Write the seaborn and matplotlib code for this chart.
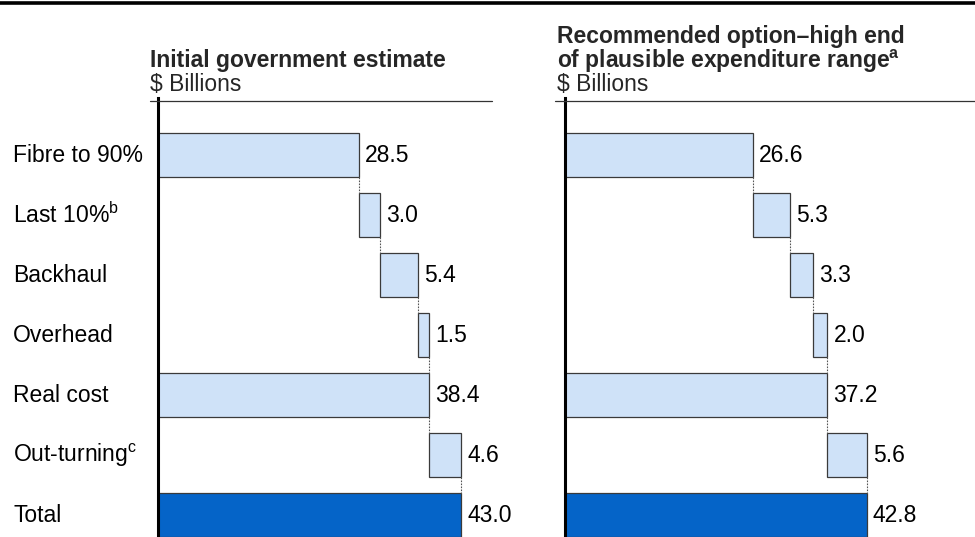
import matplotlib
matplotlib.use("Agg")
import matplotlib.pyplot as plt
import matplotlib.transforms as mtransforms
from matplotlib.lines import Line2D
import seaborn as sns
import pandas as pd

# ---- data -------------------------------------------------------------
categories = ["Fibre to 90%", "Last 10%", "Backhaul", "Overhead",
              "Real cost", "Out-turning", "Total"]
footnotes = ["", "b", "", "", "", "c", ""]
kinds = ["step", "step", "step", "step", "subtotal", "step", "total"]
initial_values = [28.5, 3.0, 5.4, 1.5, 38.4, 4.6, 43.0]
recommended_values = [26.6, 5.3, 3.3, 2.0, 37.2, 5.6, 42.8]

# ---- style ------------------------------------------------------------
sns.set_theme(style="white")
plt.rcParams["font.family"] = ["Liberation Sans", "DejaVu Sans"]
plt.rcParams["mathtext.fontset"] = "custom"
plt.rcParams["mathtext.rm"] = "Liberation Sans"
plt.rcParams["mathtext.bf"] = "Liberation Sans:bold"

LIGHT = "#CFE2F8"
DARK = "#0564C8"
EDGE = "#3A3A3A"
BAR_W = 0.72
FS = 16.5
W, H = 975, 537

fig = plt.figure(figsize=(W / 100, H / 100), dpi=100)


def px_x(x):
    return x / W


def px_y(y):
    return 1 - y / H


SCALE = 7.05  # pixels per billion
AX_TOP, AX_BOT = 98, 537


def waterfall(ax, values):
    lefts, running = [], 0.0
    for v, k in zip(values, kinds):
        if k == "step":
            lefts.append(running)
            running += v
        else:
            lefts.append(0.0)
            running = v
    df = pd.DataFrame({"category": categories, "value": values,
                       "left": lefts, "kind": kinds})
    light = df[df["kind"] != "total"]
    dark = df[df["kind"] == "total"]
    sns.barplot(data=light, x="value", y="category", order=categories,
                orient="h", color=LIGHT, saturation=1, width=BAR_W,
                edgecolor=EDGE, linewidth=0.9, errorbar=None,
                left=light["left"].to_numpy(), ax=ax)
    sns.barplot(data=dark, x="value", y="category", order=categories,
                orient="h", color=DARK, saturation=1, width=BAR_W,
                edgecolor=EDGE, linewidth=0.9, errorbar=None, ax=ax)

    # dotted connectors between consecutive bars
    for i in range(len(values) - 1):
        x_end = lefts[i] + values[i]
        ax.vlines(x_end, i + BAR_W / 2, i + 1 - BAR_W / 2, colors="#555555",
                  linewidth=0.8, linestyles=(0, (1.5, 1.2)))

    # value labels
    for i, (l, v) in enumerate(zip(lefts, values)):
        ax.annotate(f"{v:.1f}", xy=(l + v, i), xytext=(4.5, 0),
                    textcoords="offset points", va="center", ha="left",
                    fontsize=FS, color="black")

    ax.set_ylim(len(values) - 1 + (AX_BOT - 515) / 60, -(155 - AX_TOP) / 60)
    ax.set_xlabel("")
    ax.set_ylabel("")
    ax.set_xticks([])
    ax.set_yticks([])
    for s in ["top", "right", "bottom"]:
        ax.spines[s].set_visible(False)
    ax.spines["left"].set_color("black")
    ax.spines["left"].set_linewidth(2.2)
    ax.patch.set_alpha(0)


ax_h = (AX_BOT - AX_TOP) / H
left_x0, left_x1 = 158, 492
right_x0, right_x1 = 565, 975
ax1 = fig.add_axes([px_x(left_x0), 0, px_x(left_x1 - left_x0), ax_h])
ax2 = fig.add_axes([px_x(right_x0), 0, px_x(right_x1 - right_x0), ax_h])
waterfall(ax1, initial_values)
waterfall(ax2, recommended_values)
ax1.set_xlim(0, (left_x1 - left_x0) / SCALE)
ax2.set_xlim(0, (right_x1 - right_x0) / SCALE)

# category labels
trans = mtransforms.blended_transform_factory(fig.transFigure, ax1.transData)
for i, (c, f) in enumerate(zip(categories, footnotes)):
    label = c + (f"$^{{\\mathrm{{{f}}}}}$" if f else "")
    fig.text(px_x(13), i, label, transform=trans, ha="left", va="center",
             fontsize=FS, color="black")

# panel headers
fig.text(px_x(150), px_y(61), "Initial government estimate", fontsize=FS,
         fontweight="bold", ha="left", va="center")
fig.text(px_x(150), px_y(84), r"\$ Billions", fontsize=FS, ha="left",
         va="center")
fig.text(px_x(557), px_y(37), "Recommended option\u2013high end",
         fontsize=FS, fontweight="bold", ha="left", va="center")
fig.text(px_x(557), px_y(61),
         r"of plausible expenditure range$^{\mathbf{a}}$",
         fontsize=FS, fontweight="bold", ha="left", va="center")
fig.text(px_x(557), px_y(84), r"\$ Billions", fontsize=FS, ha="left",
         va="center")

# rules
fig.add_artist(Line2D([0, 1], [px_y(3), px_y(3)], color="black",
                      linewidth=2.6, transform=fig.transFigure))
fig.add_artist(Line2D([px_x(150), px_x(492)], [px_y(101), px_y(101)],
                      color="#333333", linewidth=0.9,
                      transform=fig.transFigure))
fig.add_artist(Line2D([px_x(555), px_x(975)], [px_y(101), px_y(101)],
                      color="#333333", linewidth=0.9,
                      transform=fig.transFigure))

fig.savefig("out.png", dpi=100, facecolor="white")
